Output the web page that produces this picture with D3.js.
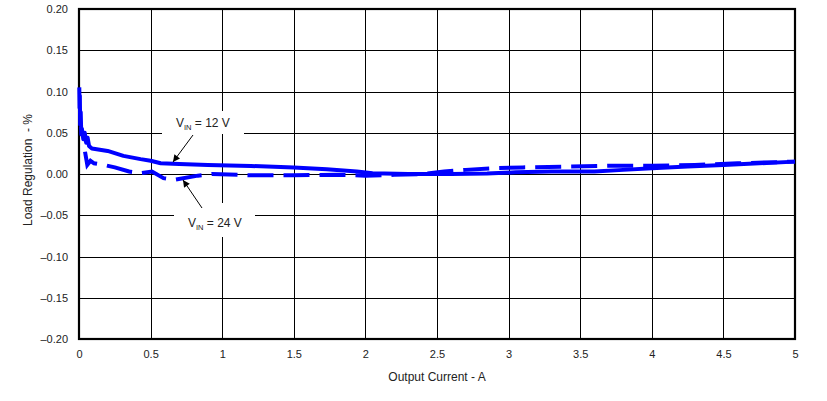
<!DOCTYPE html>
<html>
<head>
<meta charset="utf-8">
<script src="https://cdn.jsdelivr.net/npm/d3@7"></script>
<style>
  html, body { margin: 0; padding: 0; background: #fff; }
  svg { display: block; font-family: "Liberation Sans", Arial, sans-serif; }
</style>
</head>
<body>
<svg id="chart" width="827" height="401"></svg>
<script>
// ---- data ----
const xTicks = [0, 0.5, 1, 1.5, 2, 2.5, 3, 3.5, 4, 4.5, 5];
const xTickLabels = ["0", "0.5", "1", "1.5", "2", "2.5", "3", "3.5", "4", "4.5", "5"];
const yTicks = [0.20, 0.15, 0.10, 0.05, 0.00, -0.05, -0.10, -0.15, -0.20];
const yTickLabels = ["0.20", "0.15", "0.10", "0.05", "0.00", "\u20130.05", "\u20130.10", "\u20130.15", "\u20130.20"];

// VIN = 12 V (solid)
const vin12X = [0.002, 0.004, 0.006, 0.008, 0.012, 0.016, 0.02, 0.03, 0.04, 0.05, 0.06, 0.07, 0.09, 0.2, 0.31, 0.43, 0.5, 0.57, 0.7, 0.9, 1.2, 1.5, 1.73, 1.94, 2.05, 2.3, 2.6, 2.85, 3.05, 3.3, 3.6, 3.8, 4.0, 4.25, 4.5, 4.75, 5.0];
const vin12Y = [0.105, 0.080, 0.095, 0.060, 0.075, 0.048, 0.055, 0.042, 0.050, 0.038, 0.044, 0.034, 0.031, 0.028, 0.022, 0.018, 0.016, 0.013, 0.012, 0.011, 0.0097, 0.008, 0.0057, 0.003, 0.001, 0.0, 0.0, 0.0005, 0.002, 0.003, 0.003, 0.005, 0.007, 0.009, 0.011, 0.013, 0.015];

// VIN = 24 V (dashed)
const vin24X = [0.042, 0.058, 0.08, 0.105, 0.175, 0.25, 0.35, 0.43, 0.51, 0.59, 0.67, 0.83, 0.93, 1.2, 1.5, 1.8, 2.0, 2.2, 2.4, 2.55, 2.7, 2.9, 3.1, 3.4, 3.7, 4.0, 4.3, 4.6, 5.0];
const vin24Y = [0.027, 0.011, 0.016, 0.013, 0.011, 0.008, 0.003, 0.001, 0.003, -0.005, -0.007, -0.002, 0.0, -0.0015, -0.0015, -0.001, -0.002, -0.001, 0.0, 0.003, 0.005, 0.007, 0.008, 0.009, 0.010, 0.010, 0.011, 0.013, 0.015];

// ---- layout ----
const svg = d3.select("#chart");
const L = 79, R = 795, T = 9, B = 339;
const x = d3.scaleLinear().domain([0, 5]).range([L, R]);
const y = d3.scaleLinear().domain([-0.2, 0.2]).range([B, T]);
const textColor = "#222";
const blue = "#0000ff";

// grid + tick labels via axes
const xAxis = d3.axisBottom(x).tickValues(xTicks)
  .tickFormat((d, i) => xTickLabels[i]).tickSize(-(B - T)).tickPadding(11);
const gx = svg.append("g").attr("transform", `translate(0,${B})`).call(xAxis);
const yAxis = d3.axisLeft(y).tickValues(yTicks)
  .tickFormat((d, i) => yTickLabels[i]).tickSize(-(R - L)).tickPadding(11);
const gy = svg.append("g").attr("transform", `translate(${L},0)`).call(yAxis);
[gx, gy].forEach(g => {
  g.select(".domain").remove();
  g.selectAll(".tick line").attr("stroke", "#000").attr("stroke-width", 1).attr("shape-rendering", "crispEdges");
  g.selectAll(".tick text").attr("fill", textColor).style("font-size", "11px")
    .style("font-family", '"Liberation Sans", Arial, sans-serif');
});

// white boxes behind annotations
svg.append("rect").attr("x", 162).attr("y", 111).attr("width", 82).attr("height", 23).attr("fill", "#fff");
svg.append("rect").attr("x", 174).attr("y", 203).attr("width", 81).attr("height", 34).attr("fill", "#fff");

// frame
svg.append("rect").attr("x", L).attr("y", T).attr("width", R - L).attr("height", B - T)
  .attr("fill", "none").attr("stroke", "#000").attr("stroke-width", 2.2);

// data lines
const line = d3.line().x(d => x(d[0])).y(d => y(d[1]));
const d24 = vin24X.map((v, i) => [v, vin24Y[i]]);
const d12 = vin12X.map((v, i) => [v, vin12Y[i]]);
svg.append("path").datum(d24).attr("d", line).attr("fill", "none")
  .attr("stroke", blue).attr("stroke-width", 4).attr("stroke-dasharray", "26,10");
svg.append("path").datum(d12).attr("d", line).attr("fill", "none")
  .attr("stroke", blue).attr("stroke-width", 4).attr("stroke-linejoin", "round");

// arrows
const defs = svg.append("defs");
defs.append("marker").attr("id", "ah").attr("viewBox", "0 0 10 10")
  .attr("refX", 10).attr("refY", 5).attr("markerWidth", 9).attr("markerHeight", 7)
  .attr("markerUnits", "userSpaceOnUse").attr("orient", "auto")
  .append("path").attr("d", "M0,0 L10,5 L0,10 z").attr("fill", "#000");
svg.append("line").attr("x1", 193).attr("y1", 135).attr("x2", 173).attr("y2", 162)
  .attr("stroke", "#000").attr("stroke-width", 1).attr("marker-end", "url(#ah)");
svg.append("line").attr("x1", 202).attr("y1", 208).attr("x2", 183).attr("y2", 180)
  .attr("stroke", "#000").attr("stroke-width", 1).attr("marker-end", "url(#ah)");

// annotation labels
function vinLabel(px, py, rest) {
  const t = svg.append("text").attr("x", px).attr("y", py).attr("fill", textColor).style("font-size", "12px");
  t.append("tspan").text("V");
  t.append("tspan").attr("dy", 3).style("font-size", "7.5px").text("IN");
  t.append("tspan").attr("dy", -3).text(rest);
}
vinLabel(176, 127, " = 12 V");
vinLabel(188, 227, " = 24 V");

// axis titles
svg.append("text").attr("x", 437).attr("y", 381).attr("text-anchor", "middle")
  .attr("fill", textColor).style("font-size", "12px").text("Output Current - A");
svg.append("text").attr("transform", "translate(32,170) rotate(-90)").attr("text-anchor", "middle")
  .attr("fill", textColor).style("font-size", "12px").style("white-space", "pre").text("Load Regulation  - %");
</script>
</body>
</html>
